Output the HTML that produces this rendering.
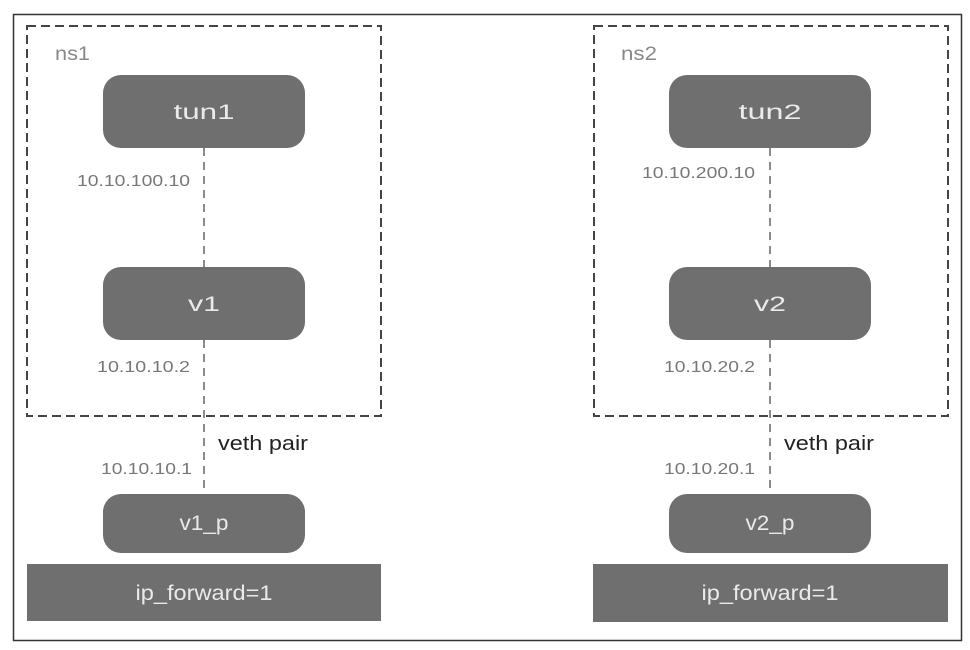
<!DOCTYPE html>
<html><head><meta charset="utf-8"><style>
html,body{margin:0;padding:0;background:#fff}
svg{display:block}
text{font-family:"Liberation Sans",sans-serif}
</style></head><body>
<svg width="970" height="650" viewBox="0 0 970 650" xmlns="http://www.w3.org/2000/svg">
<rect x="13.5" y="14.5" width="948" height="626" fill="#fff" stroke="#333" stroke-width="1.5"/>
<g fill="none" stroke="#444" stroke-width="2" stroke-dasharray="9,5">
<rect x="27" y="26" width="354" height="390"/>
<rect x="594" y="26" width="354" height="390"/>
</g>
<g stroke="#666" stroke-width="1.5" stroke-dasharray="8,6">
<line x1="204" y1="148" x2="204" y2="267"/>
<line x1="204" y1="340" x2="204" y2="494"/>
<line x1="770" y1="148" x2="770" y2="267"/>
<line x1="770" y1="340" x2="770" y2="494"/>
</g>
<g fill="#6f6f6f">
<rect x="103" y="75" width="202" height="73" rx="18"/>
<rect x="103" y="267" width="202" height="73" rx="18"/>
<rect x="103" y="494" width="202" height="59" rx="18"/>
<rect x="27" y="564" width="354" height="57"/>
<rect x="669" y="75" width="202" height="73" rx="18"/>
<rect x="669" y="267" width="202" height="73" rx="18"/>
<rect x="669" y="494" width="202" height="59" rx="18"/>
<rect x="593" y="564" width="355" height="58"/>
</g>
<g fill="#eaeaea" font-size="21" text-anchor="middle">
<text x="204" y="119" textLength="61" lengthAdjust="spacingAndGlyphs">tun1</text>
<text x="204" y="311" textLength="32" lengthAdjust="spacingAndGlyphs">v1</text>
<text x="204" y="530" textLength="49" lengthAdjust="spacingAndGlyphs">v1_p</text>
<text x="204" y="600" textLength="137" lengthAdjust="spacingAndGlyphs">ip_forward=1</text>
<text x="770" y="119" textLength="63" lengthAdjust="spacingAndGlyphs">tun2</text>
<text x="770" y="311" textLength="32" lengthAdjust="spacingAndGlyphs">v2</text>
<text x="770" y="530" textLength="49" lengthAdjust="spacingAndGlyphs">v2_p</text>
<text x="770" y="600" textLength="137" lengthAdjust="spacingAndGlyphs">ip_forward=1</text>
</g>
<g fill="#777" font-size="16" text-anchor="end">
<text x="190" y="186" textLength="113" lengthAdjust="spacingAndGlyphs">10.10.100.10</text>
<text x="190" y="372" textLength="93" lengthAdjust="spacingAndGlyphs">10.10.10.2</text>
<text x="192" y="474" textLength="91" lengthAdjust="spacingAndGlyphs">10.10.10.1</text>
<text x="755" y="178" textLength="113" lengthAdjust="spacingAndGlyphs">10.10.200.10</text>
<text x="755" y="372" textLength="91" lengthAdjust="spacingAndGlyphs">10.10.20.2</text>
<text x="755" y="474" textLength="91" lengthAdjust="spacingAndGlyphs">10.10.20.1</text>
</g>
<g fill="#888" font-size="19">
<text x="55" y="60" textLength="35" lengthAdjust="spacingAndGlyphs">ns1</text>
<text x="621" y="60" textLength="36" lengthAdjust="spacingAndGlyphs">ns2</text>
</g>
<g fill="#222" font-size="20">
<text x="218" y="450" textLength="90" lengthAdjust="spacingAndGlyphs">veth pair</text>
<text x="784" y="450" textLength="90" lengthAdjust="spacingAndGlyphs">veth pair</text>
</g>
</svg>
</body></html>
